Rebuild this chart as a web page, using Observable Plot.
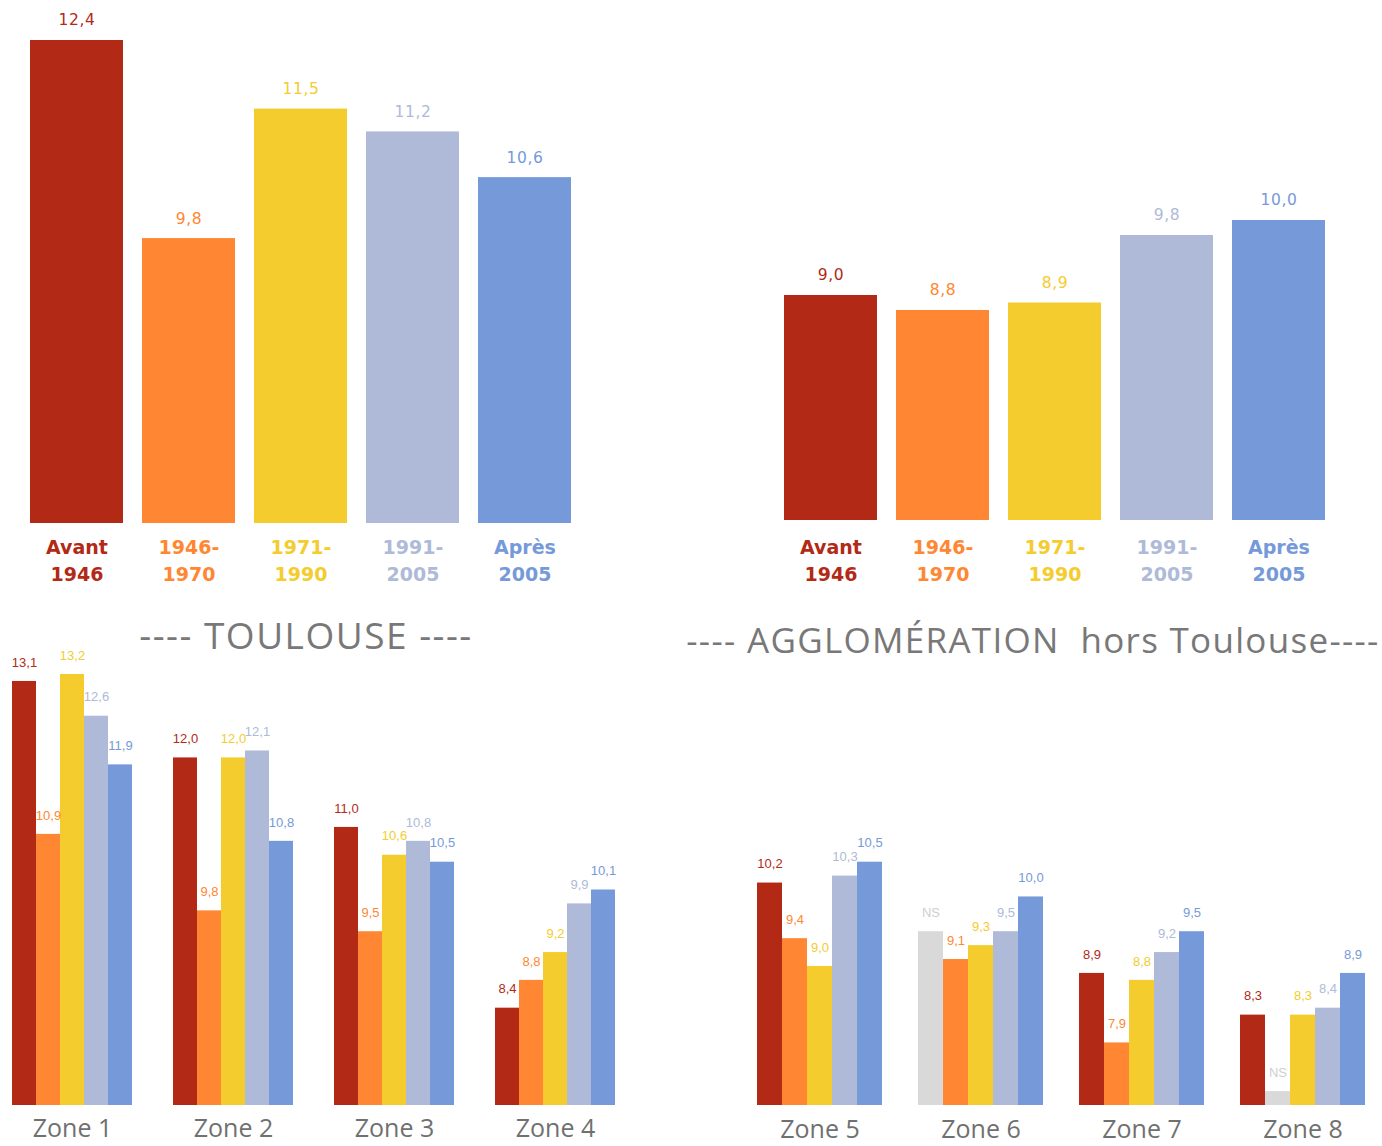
<!DOCTYPE html>
<html><head><meta charset="utf-8">
<script src="https://cdn.jsdelivr.net/npm/d3@7"></script>
<script src="https://cdn.jsdelivr.net/npm/@observablehq/plot@0.6"></script>
<style>
html,body{margin:0;padding:0;background:#fff;}
#root{position:relative;width:1382px;height:1146px;overflow:hidden;background:#fff;}
.panel{position:absolute;}
.title{position:absolute;white-space:pre;font-family:"Open Sans",sans-serif;color:#787878;line-height:1;z-index:2;}
.vals text{letter-spacing:0.6px;}
</style></head><body><div id="root"></div>
<script>
// ---- data ----
const periods = ["Avant 1946", "1946-1970", "1971-1990", "1991-2005", "Après 2005"];
const periodLabels = ["Avant\n1946", "1946-\n1970", "1971-\n1990", "1991-\n2005", "Après\n2005"];
const periodColors = ["#b22a16", "#ff8733", "#f4cc2e", "#aebad7", "#769ad9"];

const toulouseValues = [12.4, 9.8, 11.5, 11.2, 10.6];
const aggloValues = [9.0, 8.8, 8.9, 9.8, 10.0];

const toulouseZones = ["Zone 1", "Zone 2", "Zone 3", "Zone 4"];
const zone1 = [13.1, 10.9, 13.2, 12.6, 11.9];
const zone2 = [12.0, 9.8, 12.0, 12.1, 10.8];
const zone3 = [11.0, 9.5, 10.6, 10.8, 10.5];
const zone4 = [8.4, 8.8, 9.2, 9.9, 10.1];

const aggloZones = ["Zone 5", "Zone 6", "Zone 7", "Zone 8"];
const zone5 = [10.2, 9.4, 9.0, 10.3, 10.5];
const zone6 = [null, 9.1, 9.3, 9.5, 10.0];
const zone7 = [8.9, 7.9, 8.8, 9.2, 9.5];
const zone8 = [8.3, null, 8.3, 8.4, 8.9];

// "NS" (non significatif) bars: drawn height
const nsZones = ["Zone 6", "Zone 8"];
const nsPeriods = ["Avant 1946", "1946-1970"];
const nsBarValues = [9.5, 7.2];
const nsColor = "#d9d9d9";
const nsTextColor = "#cfcfcf";

const titleToulouse = "---- TOULOUSE ----";
const titleAgglo = "---- AGGLOMÉRATION  hors Toulouse----";

// ---- helpers ----
const fmt = v => d3.format(".1f")(v).replace(".", ",");
const root = document.getElementById("root");
function place(node, left, top) {
  const div = document.createElement("div");
  div.className = "panel";
  div.style.left = left + "px";
  div.style.top = top + "px";
  div.appendChild(node);
  root.appendChild(div);
}
function title(text, left, top, width, size, spacing) {
  const div = document.createElement("div");
  div.className = "title";
  div.style.left = left + "px";
  div.style.top = top + "px";
  div.style.width = width + "px";
  div.style.fontSize = size + "px";
  div.style.letterSpacing = spacing + "px";
  div.style.textAlign = "center";
  div.textContent = text;
  root.appendChild(div);
}

function topPanel(values, o) {
  const rows = periods.map((p, i) => ({period: p, value: values[i], color: periodColors[i], label: periodLabels[i]}));
  return Plot.plot({
    width: o.width, height: 600,
    marginTop: o.marginTop, marginBottom: o.marginBottom, marginLeft: o.marginLeft, marginRight: o.marginRight,
    style: {background: "transparent", overflow: "visible", fontFamily: "DejaVu Sans"},
    x: {domain: periods, paddingInner: 0.173, paddingOuter: 0, axis: null},
    y: {domain: o.domain, axis: null},
    marks: [
      Plot.barY(rows, {x: "period", y1: o.domain[0], y2: "value", fill: "color"}),
      Plot.text(rows, {x: "period", y: "value", text: d => fmt(d.value), fill: "color", dy: -20, fontSize: 15.5, fontFamily: "DejaVu Sans", className: "vals"}),
      Plot.text(rows, {x: "period", frameAnchor: "bottom", text: "label", fill: "color", dy: o.labelDy, lineAnchor: "middle",
        fontSize: 19, fontWeight: "bold", lineHeight: 1.42, fontFamily: "DejaVu Sans"})
    ]
  });
}

function bottomPanel(zones, arrays, o) {
  const rows = zones.flatMap((z, zi) => periods.map((p, i) => {
    const v = arrays[zi][i];
    const nsIdx = nsZones.findIndex((nz, k) => nz === z && nsPeriods[k] === p);
    const isNs = v == null && nsIdx >= 0;
    return {
      zone: z, period: p,
      bar: isNs ? nsBarValues[nsIdx] : v,
      fill: isNs ? nsColor : periodColors[i],
      text: isNs ? "NS" : fmt(v),
      textFill: isNs ? nsTextColor : periodColors[i]
    };
  }));
  return Plot.plot({
    width: o.width, height: 506,
    marginTop: 34, marginBottom: 41, marginLeft: o.marginLeft, marginRight: o.marginRight,
    style: {background: "transparent", overflow: "visible", fontFamily: "Open Sans"},
    fx: {domain: zones, paddingInner: o.pad, paddingOuter: 0, label: null},
    x: {domain: periods, padding: 0, axis: null},
    y: {domain: [7, 13.2], axis: null},
    marks: [
      Plot.barY(rows, {fx: "zone", x: "period", y1: 7, y2: "bar", fill: "fill"}),
      Plot.text(rows, {fx: "zone", x: "period", y: "bar", text: "text", fill: "textFill", dy: -19, fontSize: 13, fontFamily: "Liberation Sans"}),
      Plot.axisFx({anchor: "bottom", tickSize: 0, tickPadding: o.tickPadding, fontSize: 25, fill: "#707070", label: null, fontFamily: "Open Sans"})
    ]
  });
}

place(topPanel(toulouseValues, {width: 690, marginTop: 40, marginBottom: 77, marginLeft: 29, marginRight: 118, domain: [6.06, 12.4], labelDy: 35}), 0, 0);
place(topPanel(aggloValues, {width: 692, marginTop: 220, marginBottom: 80, marginLeft: 93, marginRight: 56, domain: [6, 10], labelDy: 38}), 690, 0);
place(bottomPanel(toulouseZones, [zone1, zone2, zone3, zone4], {width: 700, marginLeft: 10, marginRight: 83, pad: 0.23, tickPadding: 14}), 0, 640);
place(bottomPanel(aggloZones, [zone5, zone6, zone7, zone8], {width: 682, marginLeft: 57, marginRight: 17, pad: 0.224, tickPadding: 15}), 700, 640);

title(titleToulouse, 106, 616, 400, 37, 1.5);
title(titleAgglo, 633, 622, 800, 35, 1.3);
</script>
</body></html>
